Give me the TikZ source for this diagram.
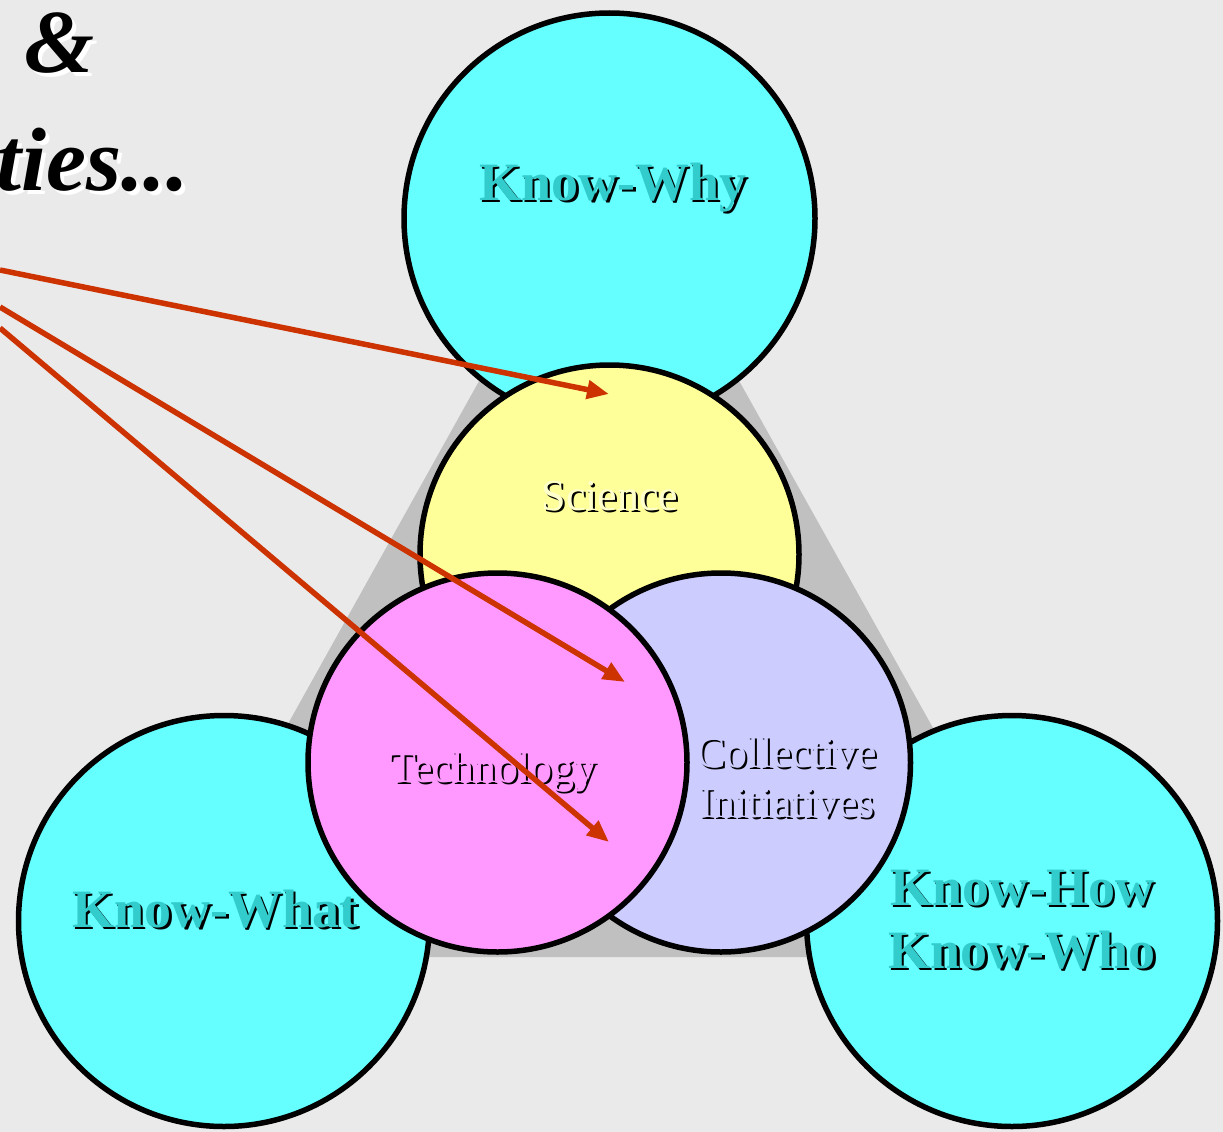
\documentclass[tikz,border=0pt]{standalone}
\usepackage{fontspec}
\setmainfont{Liberation Serif}
\usetikzlibrary{arrows.meta}
\definecolor{bg}{HTML}{EAEAEA}
\definecolor{tri}{HTML}{C0C0C0}
\definecolor{cyanfill}{HTML}{66FFFF}
\definecolor{tealtxt}{HTML}{33CCCC}
\definecolor{yel}{HTML}{FFFF99}
\definecolor{yeltxt}{HTML}{FFFFCC}
\definecolor{pinkfill}{HTML}{FF99FF}
\definecolor{lav}{HTML}{CCCCFF}
\definecolor{arrowred}{HTML}{CC3300}
\newcommand{\shtxt}[4]{\makebox[0pt][l]{\hspace*{#1}\raisebox{-#1}{\textcolor{#2}{#4}}}\textcolor{#3}{#4}}
\tikzset{
  bigcirc/.style={circle, draw=black, line width=5.5pt, minimum size=411pt, inner sep=0pt, fill=cyanfill},
  smallcirc/.style={circle, draw=black, line width=5.5pt, minimum size=379pt, inner sep=0pt},
  biglabel/.style={anchor=base, inner sep=0pt, font=\fontsize{54}{60}\selectfont\bfseries},
  smalllabel/.style={anchor=base, inner sep=0pt, font=\fontsize{44}{50}\selectfont},
  titletxt/.style={anchor=base east, inner sep=0pt, font=\fontsize{90}{110}\selectfont\bfseries\itshape},
  arr/.style={draw=arrowred, line width=5.5pt, -{Triangle[length=22pt,width=18pt]}}
}
\begin{document}
\begin{tikzpicture}[x=1pt,y=-1pt]
\useasboundingbox (0,0) rectangle (1223,1132);
\fill[bg] (0,0) rectangle (1223,1132);
\fill[tri] (609,148) -- (158,957) -- (1061,957) -- cycle;
% outer knowledge circles
\node[bigcirc] (kwhy) at (609.5,218.5) {};
\node[bigcirc] (kwhat) at (224,921) {};
\node[bigcirc] (khow) at (1012,921) {};
% inner circles
\node[smallcirc, fill=yel] (sci) at (609.5,554.5) {};
\node[smallcirc, fill=lav] (coll) at (721,762.5) {};
\node[smallcirc, fill=pinkfill] (tech) at (497.5,762.5) {};
% labels
\node[biglabel] (kwhylbl) at (613,200) {\shtxt{2.5pt}{black}{tealtxt}{Know-Why}};
\node[biglabel] (kwhatlbl) at (215,927) {\shtxt{2.5pt}{black}{tealtxt}{Know-What}};
\node[biglabel] (khowlbl) at (1022,905) {\shtxt{2.5pt}{black}{tealtxt}{Know-How}};
\node[biglabel] (kwholbl) at (1022,968) {\shtxt{2.5pt}{black}{tealtxt}{Know-Who}};
\node[smalllabel] (scilbl) at (610,510) {\shtxt{2pt}{black}{yeltxt}{Science}};
\node[smalllabel] (techlbl) at (493,782) {\shtxt{2pt}{black}{pinkfill}{Technology}};
\node[smalllabel] (colllbl1) at (787,767) {\shtxt{2pt}{black}{lav}{Collective}};
\node[smalllabel] (colllbl2) at (787,817) {\shtxt{2pt}{black}{lav}{Initiatives}};
% title fragments
\node[titletxt] (title1) at (95,73) {\shtxt{4pt}{white}{black}{\&}};
\node[titletxt] (title2) at (189,190) {\shtxt{4pt}{white}{black}{ties...}};
% arrows
\coordinate (s1) at (0,270);
\coordinate (s2) at (0,307);
\coordinate (s3) at (0,328);
\coordinate (t1) at (609,394);
\coordinate (t2) at (625,682);
\coordinate (t3) at (609,842);
\draw[arr] (s1) -- (t1);
\draw[arr] (s2) -- (t2);
\draw[arr] (s3) -- (t3);
\end{tikzpicture}
\end{document}
